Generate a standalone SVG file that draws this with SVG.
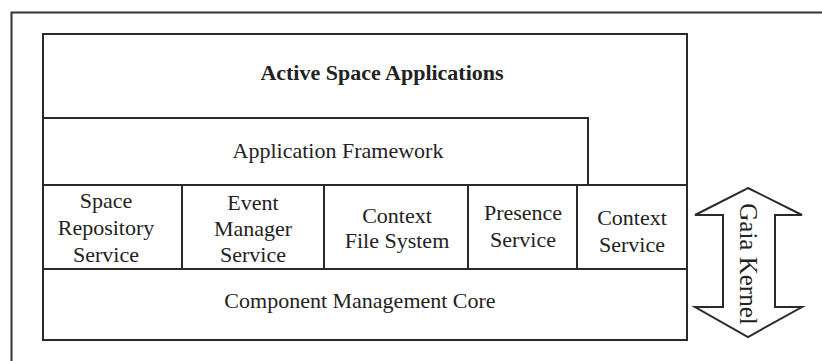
<svg xmlns="http://www.w3.org/2000/svg" width="822" height="361" viewBox="0 0 822 361">
<style>
.box{fill:#fff;stroke:#2a2a2a;stroke-width:2}
.t{font-family:"Liberation Serif","Times New Roman",serif;font-size:22px;fill:#222;text-anchor:middle}
.b{font-weight:bold}
</style>
<rect width="822" height="361" fill="#fff"/>
<path d="M11.5,361 V12.5 H822" fill="none" stroke="#333" stroke-width="2"/>
<g id="active-space-applications">
<polygon class="box" points="43,34 687,34 687,185 588,185 588,118 43,118"/>
<text class="t b" x="382" y="80">Active Space Applications</text>
</g>
<g id="application-framework">
<rect class="box" x="43" y="118" width="545" height="67"/>
<text class="t" x="338" y="158">Application Framework</text>
</g>
<g id="space-repository-service">
<rect class="box" x="43" y="185" width="139" height="84"/>
<text class="t" x="106" y="208">Space</text>
<text class="t" x="106" y="235">Repository</text>
<text class="t" x="106" y="262">Service</text>
</g>
<g id="event-manager-service">
<rect class="box" x="182" y="185" width="142" height="84"/>
<text class="t" x="253" y="210">Event</text>
<text class="t" x="253" y="236">Manager</text>
<text class="t" x="253" y="262">Service</text>
</g>
<g id="context-file-system">
<rect class="box" x="324" y="185" width="144" height="84"/>
<text class="t" x="397" y="223">Context</text>
<text class="t" x="397" y="248">File System</text>
</g>
<g id="presence-service">
<rect class="box" x="468" y="185" width="109" height="84"/>
<text class="t" x="523" y="220">Presence</text>
<text class="t" x="523" y="247">Service</text>
</g>
<g id="context-service">
<rect class="box" x="577" y="185" width="110" height="84"/>
<text class="t" x="632" y="225">Context</text>
<text class="t" x="632" y="252">Service</text>
</g>
<g id="component-management-core">
<rect class="box" x="43" y="269" width="644" height="71"/>
<text class="t" x="360" y="308">Component Management Core</text>
</g>
<g id="gaia-kernel">
<polygon class="box" points="748,188 802,215 775,215 775,307 802,307 748,337 695,307 723,307 723,215 695,215"/>
<text class="t" style="font-size:25px" transform="translate(740,264) rotate(90)">Gaia Kernel</text>
</g>
<g id="connectors"></g>
</svg>
